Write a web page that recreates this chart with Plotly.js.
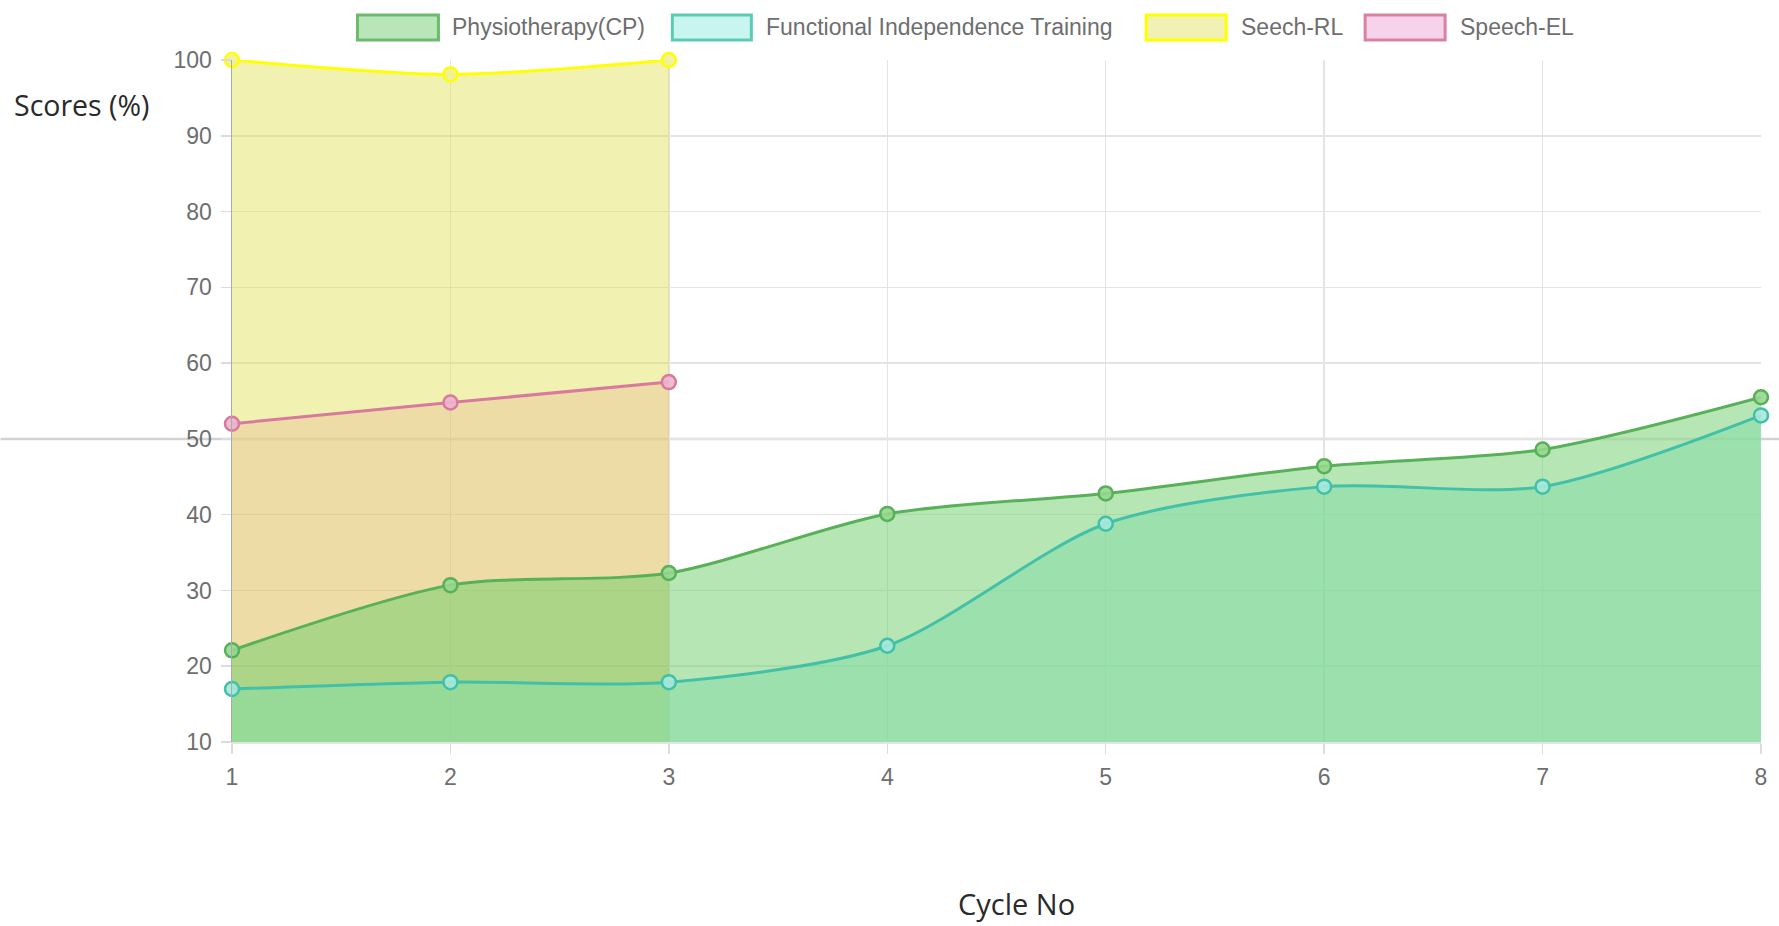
<!DOCTYPE html>
<html>
<head>
<meta charset="utf-8">
<script src="https://cdn.plot.ly/plotly-3.0.1.min.js"></script>
<style>
  html, body { margin: 0; padding: 0; background: #fff; }
  #chart { width: 1779px; height: 926px; }
</style>
</head>
<body>
<div id="chart"></div>
<script>
// ---- data ----
const cycles = [1, 2, 3, 4, 5, 6, 7, 8];
const physio = [22.1, 30.7, 32.3, 40.1, 42.8, 46.4, 48.6, 55.5];
const functional = [17.0, 17.9, 17.9, 22.7, 38.8, 43.7, 43.7, 53.1];
const seechRL = [100, 98.1, 100];
const speechEL = [52, 54.8, 57.5];
const seriesNames = ["Physiotherapy(CP)", "Functional Independence Training", "Seech-RL", "Speech-EL"];
const yTicks = [10, 20, 30, 40, 50, 60, 70, 80, 90, 100];

// ---- styles ----
const W = 1779, H = 926;
const M = { l: 231.5, r: 18, t: 60, b: 184 };
const PW = W - M.l - M.r, PH = H - M.t - M.b;
const px = v => (v - M.l) / PW;
const py = v => (H - M.b - v) / PH;

const styles = [
  { line: 'rgb(88,176,88)',  fill: 'rgba(110,205,105,0.5)', mfill: 'rgba(150,215,145,0.9)', box: '#b8e6b8', border: '#6cbb6c' },
  { line: 'rgb(66,192,168)', fill: 'rgba(150,235,225,0.5)', mfill: 'rgba(165,232,220,0.9)', box: '#c9f5f0', border: '#5ccbb5' },
  { line: 'rgb(255,255,0)',  fill: 'rgba(220,220,60,0.4)',  mfill: 'rgba(240,240,150,0.9)', box: '#f1f1b3', border: '#ffff00' },
  { line: 'rgb(216,122,158)',fill: 'rgba(232,120,180,0.25)',mfill: 'rgba(235,180,205,0.9)', box: '#f6d3ea', border: '#d9829f' }
];
const LINE = { shape: 'spline', smoothing: 0.8 };

function fillTrace(x, y, s) {
  return {
    x: x, y: y, type: 'scatter', mode: 'none',
    line: { shape: LINE.shape, smoothing: LINE.smoothing, width: 0 },
    fill: 'tozeroy', fillcolor: s.fill,
    hoverinfo: 'skip', showlegend: false
  };
}
function lineTrace(x, y, s) {
  return {
    x: x, y: y, type: 'scatter', mode: 'lines+markers',
    line: { color: s.line, width: 3, shape: LINE.shape, smoothing: LINE.smoothing },
    marker: { size: 14, color: s.mfill, line: { color: s.line, width: 2.5 } },
    cliponaxis: false, hoverinfo: 'x+y', showlegend: false
  };
}

const sets = [
  [cycles.slice(0, speechEL.length), speechEL, styles[3]],
  [cycles.slice(0, seechRL.length), seechRL, styles[2]],
  [cycles, functional, styles[1]],
  [cycles, physio, styles[0]]
];
const data = sets.map(d => fillTrace(d[0], d[1], d[2]))
  .concat(sets.map(d => lineTrace(d[0], d[1], d[2])));

// custom legend
const boxes = [[357, 438], [672, 751], [1146, 1226], [1365, 1445]];
const textX = [450, 764, 1239, 1458];
const shapes = [
  { type: 'line', xref: 'paper', yref: 'y', x0: px(0), x1: px(W), y0: 50, y1: 50,
    line: { color: '#d2d2d2', width: 2.5 }, layer: 'below' }
];
const annotations = [];
seriesNames.forEach((n, i) => {
  shapes.push({ type: 'rect', xref: 'paper', yref: 'paper',
    x0: px(boxes[i][0]), x1: px(boxes[i][1]), y0: py(40), y1: py(15),
    fillcolor: styles[i].box, line: { color: styles[i].border, width: 3 } });
  annotations.push({ xref: 'paper', yref: 'paper', x: px(textX[i]), y: py(27),
    xanchor: 'left', yanchor: 'middle', showarrow: false, text: n,
    font: { family: 'Liberation Sans, Arial, sans-serif', size: 23, color: '#6e6e6e' } });
});
annotations.push({ xref: 'paper', yref: 'paper', x: px(11), y: py(105),
  xanchor: 'left', yanchor: 'middle', showarrow: false, text: 'Scores (%)',
  font: { family: 'Open Sans, sans-serif', size: 28.5, color: '#2a2a2a' } });
annotations.push({ xref: 'paper', yref: 'paper', x: px(1016), y: py(903),
  xanchor: 'center', yanchor: 'middle', showarrow: false, text: 'Cycle No',
  font: { family: 'Open Sans, sans-serif', size: 29, color: '#2a2a2a' } });

const tickFont = { family: 'Liberation Sans, Arial, sans-serif', size: 23, color: '#6e6e6e' };
const layout = {
  width: W, height: H,
  margin: M,
  paper_bgcolor: '#fff', plot_bgcolor: '#fff',
  showlegend: false,
  xaxis: {
    range: [1, 8], tickvals: cycles, ticktext: cycles.map(String),
    showgrid: true, gridcolor: '#e4e4e4', gridwidth: 1.5,
    zeroline: false, showline: true, linecolor: '#e4e4e4', linewidth: 1.5,
    ticks: 'outside', ticklen: 10, tickcolor: '#dcdcdc', tickwidth: 1.5,
    ticklabelstandoff: 4, tickfont: tickFont, fixedrange: true
  },
  yaxis: {
    range: [10, 100], tickvals: yTicks, ticktext: yTicks.map(String),
    showgrid: true, gridcolor: '#e4e4e4', gridwidth: 1.5,
    zeroline: false, showline: true, linecolor: '#aaaaaa', linewidth: 1.5,
    ticks: 'outside', ticklen: 10, tickcolor: '#dcdcdc', tickwidth: 1.5,
    ticklabelstandoff: 4, tickfont: tickFont, fixedrange: true
  },
  shapes: shapes,
  annotations: annotations
};

Plotly.newPlot('chart', data, layout, { displayModeBar: false, staticPlot: true });
</script>
</body>
</html>
